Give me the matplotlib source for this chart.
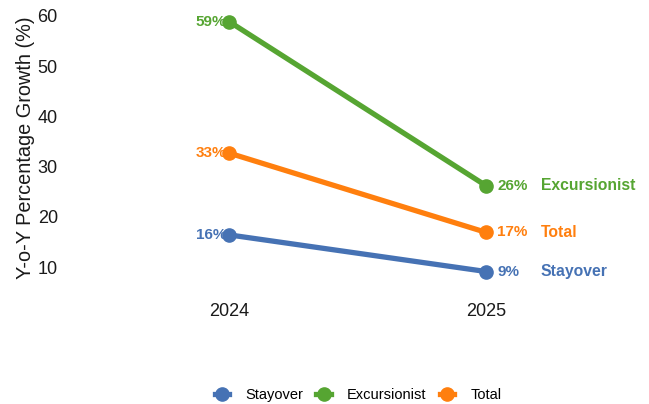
import matplotlib.pyplot as plt
from matplotlib.lines import Line2D

plt.rcParams['font.family'] = ['Liberation Sans', 'DejaVu Sans']

years = [2024, 2025]
series = ['Stayover', 'Excursionist', 'Total']
stayover = [16.4, 9.1]
excursionist = [58.9, 26.2]
total = [32.7, 16.9]
colors = {'Stayover': '#4672b4', 'Excursionist': '#56a532', 'Total': '#ff7f0e'}

values = {'Stayover': stayover, 'Excursionist': excursionist, 'Total': total}

fig = plt.figure(figsize=(6.49, 4.04), dpi=100)
ax = fig.add_axes([62 / 649, 1 - 290 / 404, (640 - 62) / 649, (290 - 5) / 404])

for name in series:
    v = values[name]
    c = colors[name]
    ax.plot(years, v, color=c, lw=3.8, marker='o', ms=9.5, zorder=3,
            solid_capstyle='round')
    # start-year value, sitting just left of the point
    ax.annotate(f"{v[0]:.0f}%", (years[0], v[0]), xytext=(-2, 0),
                textcoords='offset points', ha='right', va='center',
                color=c, fontsize=11, fontweight='bold', zorder=2)
    # end-year value and series name
    ax.annotate(f"{v[1]:.0f}%", (years[1], v[1]), xytext=(8, 0),
                textcoords='offset points', ha='left', va='center',
                color=c, fontsize=11, fontweight='bold', zorder=2)
    ax.annotate(name, (years[1], v[1]), xytext=(39.5, 0),
                textcoords='offset points', ha='left', va='center',
                color=c, fontsize=11.3, fontweight='bold', zorder=2)

ax.set_xlim(2024 - 167 / 257, 2025 + 154 / 257)
ax.set_ylim(10 - 23 / 5.02, 60 + 11 / 5.02)
ax.set_xticks(years)
ax.set_xticklabels([str(y) for y in years])
ax.set_yticks([10, 20, 30, 40, 50, 60])
ax.tick_params(length=0, labelsize=13, colors='#1a1a1a', pad=3)
ax.tick_params(axis='x', pad=9)
for s in ax.spines.values():
    s.set_visible(False)
ax.set_ylabel('Y-o-Y Percentage Growth (%)', fontsize=14.3, color='#1a1a1a', labelpad=2)

handles = [Line2D([], [], color=colors[n], lw=3.8, marker='o', ms=9.5) for n in series]
fig.legend(handles, series, loc='center', bbox_to_anchor=(358 / 649, 1 - 395 / 404),
           ncol=3, frameon=False, fontsize=10.5, handlelength=1.0,
           columnspacing=0.9, handletextpad=1.1)

fig.savefig('out.png', dpi=100)
